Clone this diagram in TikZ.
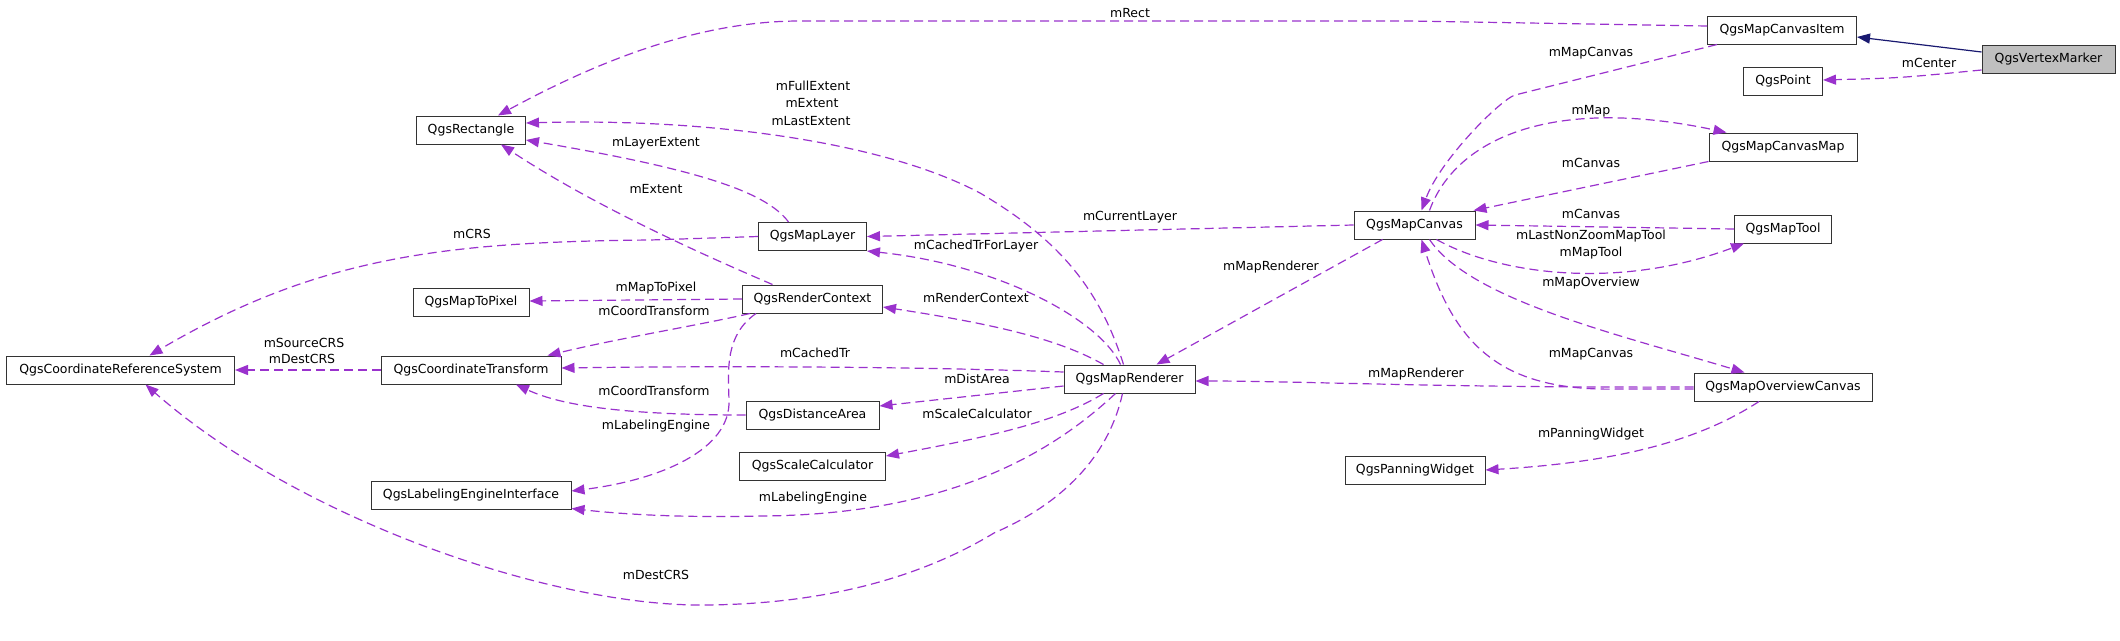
\documentclass[tikz,border=0pt]{standalone}
\usepackage{fontspec}
\setmainfont{DejaVu Sans}
\usetikzlibrary{arrows.meta,calc}
\definecolor{depc}{HTML}{9A32CD}
\definecolor{inhc}{HTML}{191970}
\definecolor{hlc}{HTML}{BFBFBF}
\begin{document}
\begin{tikzpicture}[x=1pt,y=-1pt,
  cls/.style={draw=black!80,line width=1pt,minimum height=28pt,inner sep=0pt,fill=white,font=\fontsize{12.5}{15}\selectfont},
  dep/.style={draw=depc,line width=1.2pt,dash pattern=on 9pt off 5pt,-{Triangle[length=13pt,width=10pt,fill=depc]}},
  inh/.style={draw=inhc,line width=1.2pt,-{Triangle[length=13pt,width=10pt,fill=inhc]}},
  lbl/.style={inner sep=0pt,font=\fontsize{12.5}{15}\selectfont}]
\useasboundingbox (0,0) rectangle (2120,640);
% classes
\node[cls,minimum width=109pt] (rect) at (471,130) {QgsRectangle};
\node[cls,minimum width=116pt] (m2p) at (471,302) {QgsMapToPixel};
\node[cls,minimum width=228pt] (crs) at (120.5,370) {QgsCoordinateReferenceSystem};
\node[cls,minimum width=180pt] (ct) at (471,370) {QgsCoordinateTransform};
\node[cls,minimum width=200pt] (lei) at (471,495) {QgsLabelingEngineInterface};
\node[cls,minimum width=108pt] (layer) at (812.5,236.5) {QgsMapLayer};
\node[cls,minimum width=140pt] (rc) at (812.5,299) {QgsRenderContext};
\node[cls,minimum width=133pt] (da) at (812.5,415) {QgsDistanceArea};
\node[cls,minimum width=146pt] (sc) at (812.5,466) {QgsScaleCalculator};
\node[cls,minimum width=131pt] (mr) at (1129.5,379) {QgsMapRenderer};
\node[cls,minimum width=121pt] (mc) at (1414.5,225) {QgsMapCanvas};
\node[cls,minimum width=149pt] (mci) at (1782,30) {QgsMapCanvasItem};
\node[cls,minimum width=133pt,fill=hlc] (vm) at (2048.5,59) {QgsVertexMarker};
\node[cls,minimum width=79pt] (pt) at (1783,81) {QgsPoint};
\node[cls,minimum width=148pt] (mcm) at (1783,147) {QgsMapCanvasMap};
\node[cls,minimum width=97pt] (mt) at (1783,229) {QgsMapTool};
\node[cls,minimum width=178pt] (moc) at (1783,387) {QgsMapOverviewCanvas};
\node[cls,minimum width=140pt] (pw) at (1415,470) {QgsPanningWidget};
% connectors
\draw[inh] ($(vm.west)+(0,-7)$) -- ($(mci.east)+(0,7)$);
\draw[dep] ($(vm.west)+(0,11)$) .. controls (1900,78) .. ($(pt.east)+(0,-1)$);
\draw[dep] ($(mci.west)+(0,-4)$) -- (1410,21) -- (800,21) .. controls (700,21) and (600,60) .. ($(rect.north)+(27,0)$);
\draw[dep] ($(mci.south west)+(10,0)$) -- (1515,95) .. controls (1500,100) and (1440,160) .. ($(mc.north)+(7,0)$);
\draw[dep] ($(mc.north)+(15,0)$) .. controls (1455,140) and (1550,95) .. ($(mcm.north west)+(18,0)$);
\draw[dep] (mcm.south west) -- ($(mc.north east)+(-2,0)$);
\draw[dep] (mt.west) -- (mc.east);
\draw[dep] ($(mc.south)+(22,0)$) .. controls (1500,275) and (1620,290) .. ($(mt.south west)+(10,0)$);
\draw[dep] ($(mc.south)+(15,0)$) .. controls (1470,300) and (1620,335) .. ($(moc.north west)+(51,0)$);
\draw[dep] ($(moc.west)+(0,2)$) -- (1620,389) .. controls (1500,392) and (1455,345) .. ($(mc.south)+(7,0)$);
\draw[dep] (moc.west) .. controls (1450,388) and (1300,381) .. ($(mr.east)+(0,2)$);
\draw[dep] ($(mc.south west)+(29,0)$) -- ($(mr.north)+(27,0)$);
\draw[dep] (mc.west) -- (layer.east);
\draw[dep] ($(mr.north)+(-9,0)$) .. controls (1100,320) and (1000,265) .. (layer.south east);
\draw[dep] ($(mr.north)+(-6,0)$) .. controls (1100,290) and (1060,240) .. (980,193) .. controls (880,140) and (700,118) .. ($(rect.east)+(0,-7)$);
\draw[dep] ($(mr.north)+(-26,0)$) .. controls (1060,340) and (1000,325) .. ($(rc.east)+(0,8)$);
\draw[dep] ($(layer.north)+(-24,0)$) .. controls (765,190) and (690,168) .. ($(rect.east)+(0,10)$);
\draw[dep] ($(rc.north)+(-40,0)$) .. controls (720,262) and (600,210) .. ($(rect.south)+(30,0)$);
\draw[dep] (layer.west) -- (650,240) .. controls (450,242) and (320,255) .. ($(crs.north)+(29,0)$);
\draw[dep] (rc.west) -- ($(m2p.east)+(0,-1)$);
\draw[dep] ($(rc.south west)+(8,0)$) .. controls (700,325) and (620,338) .. ($(ct.north east)+(-14,0)$);
\draw[dep] ($(rc.south west)+(14,0)$) .. controls (725,335) and (728,370) .. (729,400) .. controls (731,450) and (660,480) .. ($(lei.east)+(0,-4)$);
\draw[dep] ($(mr.west)+(0,-7)$) .. controls (900,366) and (700,366) .. ($(ct.east)+(0,-2)$);
\draw[dep] ($(mr.west)+(0,7)$) -- ($(da.east)+(0,-9)$);
\draw[dep] (da.west) .. controls (620,415) and (560,405) .. ($(ct.south)+(45,0)$);
\draw[dep] ($(mr.south)+(-26,0)$) .. controls (1060,420) and (1000,435) .. ($(sc.east)+(0,-10)$);
\draw[dep] ($(mr.south)+(-14,0)$) .. controls (1060,445) and (960,515) .. (760,516) .. controls (680,518) and (620,514) .. ($(lei.south east)+(0,-1)$);
\draw[dep] ($(mr.south)+(-7,0)$) .. controls (1110,450) and (1070,500) .. (994,533) .. controls (900,590) and (790,605) .. (700,605) .. controls (550,605) and (300,520) .. ($(crs.south)+(25,0)$);
\draw[dep] (ct.west) -- (crs.east);
\draw[dep] ($(moc.south)+(-24,0)$) .. controls (1700,440) and (1620,462) .. (pw.east);
% labels
\node[lbl] (l1) at (1130,13) {mRect};
\node[lbl] (l2) at (1929,63) {mCenter};
\node[lbl] (l3) at (1591,53) {mMapCanvas};
\node[lbl] (l4) at (1591,111) {mMap};
\node[lbl] (l5) at (1591,163) {mCanvas};
\node[lbl] (l6) at (1591,214) {mCanvas};
\node[lbl] (l7) at (1591,236) {mLastNonZoomMapTool};
\node[lbl] (l8) at (1591,253) {mMapTool};
\node[lbl] (l9) at (1591,283) {mMapOverview};
\node[lbl] (l10) at (1591,354) {mMapCanvas};
\node[lbl] (l11) at (1416,374) {mMapRenderer};
\node[lbl] (l12) at (1591,434) {mPanningWidget};
\node[lbl] (l13) at (1271,267) {mMapRenderer};
\node[lbl] (l14) at (1130,217) {mCurrentLayer};
\node[lbl] (l15) at (976,246) {mCachedTrForLayer};
\node[lbl] (l16) at (976,298) {mRenderContext};
\node[lbl] (l17) at (813,86) {mFullExtent};
\node[lbl] (l18) at (812,103) {mExtent};
\node[lbl] (l19) at (811,121) {mLastExtent};
\node[lbl] (l20) at (656,143) {mLayerExtent};
\node[lbl] (l21) at (656,189) {mExtent};
\node[lbl] (l22) at (472,234) {mCRS};
\node[lbl] (l23) at (656,288) {mMapToPixel};
\node[lbl] (l24) at (654,311) {mCoordTransform};
\node[lbl] (l25) at (304,343) {mSourceCRS};
\node[lbl] (l26) at (302,359) {mDestCRS};
\node[lbl] (l27) at (815,353) {mCachedTr};
\node[lbl] (l28) at (977,379) {mDistArea};
\node[lbl] (l29) at (654,391) {mCoordTransform};
\node[lbl] (l30) at (656,426) {mLabelingEngine};
\node[lbl] (l31) at (977,414) {mScaleCalculator};
\node[lbl] (l32) at (813,498) {mLabelingEngine};
\node[lbl] (l33) at (656,575) {mDestCRS};
\end{tikzpicture}
\end{document}
